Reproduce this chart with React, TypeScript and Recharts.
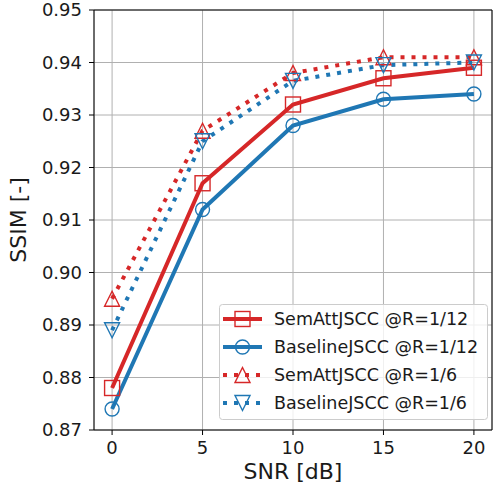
import React from 'react'
import { LineChart, Line, XAxis, YAxis, CartesianGrid, ReferenceLine, Label } from 'recharts'

// SNR sweep (dB) and SSIM per model / rate
const snr = [0, 5, 10, 15, 20]
const semAtt12 = [0.878, 0.917, 0.932, 0.937, 0.939]
const baseline12 = [0.874, 0.912, 0.928, 0.933, 0.934]
const semAtt6 = [0.895, 0.927, 0.938, 0.941, 0.941]
const baseline6 = [0.889, 0.925, 0.9365, 0.9395, 0.94]

const xTicks = [0, 5, 10, 15, 20]
const yTicks = [0.87, 0.88, 0.89, 0.9, 0.91, 0.92, 0.93, 0.94, 0.95]

const RED = '#d62728'
const BLUE = '#1f77b4'
const FONT = '"DejaVu Sans", sans-serif'

const data = snr.map((x, i) => ({
  snr: x,
  s12: semAtt12[i],
  b12: baseline12[i],
  s6: semAtt6[i],
  b6: baseline6[i],
}))

type Shape = 'square' | 'circle' | 'up' | 'down'

const Marker = ({ shape, color, cx, cy }: { shape: Shape; color: string; cx: number; cy: number }) => {
  const r = 7.5
  const common = { fill: 'none', stroke: color, strokeWidth: 1.4 }
  if (shape === 'square') return <rect x={cx - r} y={cy - r} width={2 * r} height={2 * r} {...common} />
  if (shape === 'circle') return <circle cx={cx} cy={cy} r={7} {...common} />
  if (shape === 'up')
    return <polygon points={`${cx},${cy - r} ${cx - r},${cy + r} ${cx + r},${cy + r}`} {...common} />
  return <polygon points={`${cx},${cy + r} ${cx - r},${cy - r} ${cx + r},${cy - r}`} {...common} />
}

const makeDot = (shape: Shape, color: string) => (props: any) => (
  <Marker key={`${shape}-${props.index}`} shape={shape} color={color} cx={props.cx} cy={props.cy} />
)

const series = [
  { key: 's12', name: 'SemAttJSCC @R=1/12', color: RED, shape: 'square' as Shape, dash: undefined },
  { key: 'b12', name: 'BaselineJSCC @R=1/12', color: BLUE, shape: 'circle' as Shape, dash: undefined },
  { key: 's6', name: 'SemAttJSCC @R=1/6', color: RED, shape: 'up' as Shape, dash: '4 7' },
  { key: 'b6', name: 'BaselineJSCC @R=1/6', color: BLUE, shape: 'down' as Shape, dash: '4 7' },
]

const tickStyle = { fontSize: 18, fill: '#1a1a1a', fontFamily: FONT }

export default function App() {
  return (
    <div style={{ position: 'absolute', left: 0, top: 0, width: 493, height: 491, background: '#fff' }}>
      <LineChart width={493} height={491} data={data} margin={{ top: 10, right: 1, left: 0, bottom: 0 }}>
        <CartesianGrid stroke="#b0b0b0" strokeWidth={1} />
        <XAxis
          dataKey="snr"
          type="number"
          domain={[-1, 21]}
          ticks={xTicks}
          height={61}
          tickSize={5}
          tickMargin={6}
          stroke="#000"
          tick={tickStyle}
          interval={0}
        >
          <Label
            value="SNR [dB]"
            position="insideBottom"
            offset={12}
            style={{ fontSize: 22, fill: '#1a1a1a', fontFamily: FONT }}
          />
        </XAxis>
        <YAxis
          type="number"
          domain={[0.87, 0.95]}
          ticks={yTicks}
          width={94}
          tickSize={5}
          tickMargin={7}
          stroke="#000"
          tick={tickStyle}
          interval={0}
          allowDataOverflow
          tickFormatter={(v: number) => v.toFixed(2)}
        >
          <Label
            value="SSIM [-]"
            position="insideLeft"
            offset={18}
            angle={-90}
            style={{ fontSize: 22, fill: '#1a1a1a', fontFamily: FONT, textAnchor: 'middle' }}
          />
        </YAxis>
        <ReferenceLine y={0.95} stroke="#000" strokeWidth={1} />
        <ReferenceLine x={21} stroke="#000" strokeWidth={1} />
        {series.map((s) => (
          <Line
            key={s.key}
            dataKey={s.key}
            name={s.name}
            stroke={s.color}
            strokeWidth={4}
            strokeDasharray={s.dash}
            dot={makeDot(s.shape, s.color)}
            activeDot={false}
            isAnimationActive={false}
          />
        ))}
      </LineChart>

      {/* Legend */}
      <svg
        width={493}
        height={491}
        style={{ position: 'absolute', left: 0, top: 0, pointerEvents: 'none' }}
      >
        <rect x={219.5} y={304.5} width={268} height={115} rx={3} fill="#fff" fillOpacity={0.8} stroke="#cccccc" />
        {series.map((s, i) => {
          const cy = 319 + i * 28
          return (
            <g key={s.key}>
              <line x1={223} y1={cy} x2={262} y2={cy} stroke={s.color} strokeWidth={4} strokeDasharray={s.dash} />
              <Marker shape={s.shape} color={s.color} cx={242.5} cy={cy} />
              <text x={274} y={cy} dy="0.36em" fontSize={17.5} fill="#1a1a1a" fontFamily={FONT}>
                {s.name}
              </text>
            </g>
          )
        })}
      </svg>
    </div>
  )
}
